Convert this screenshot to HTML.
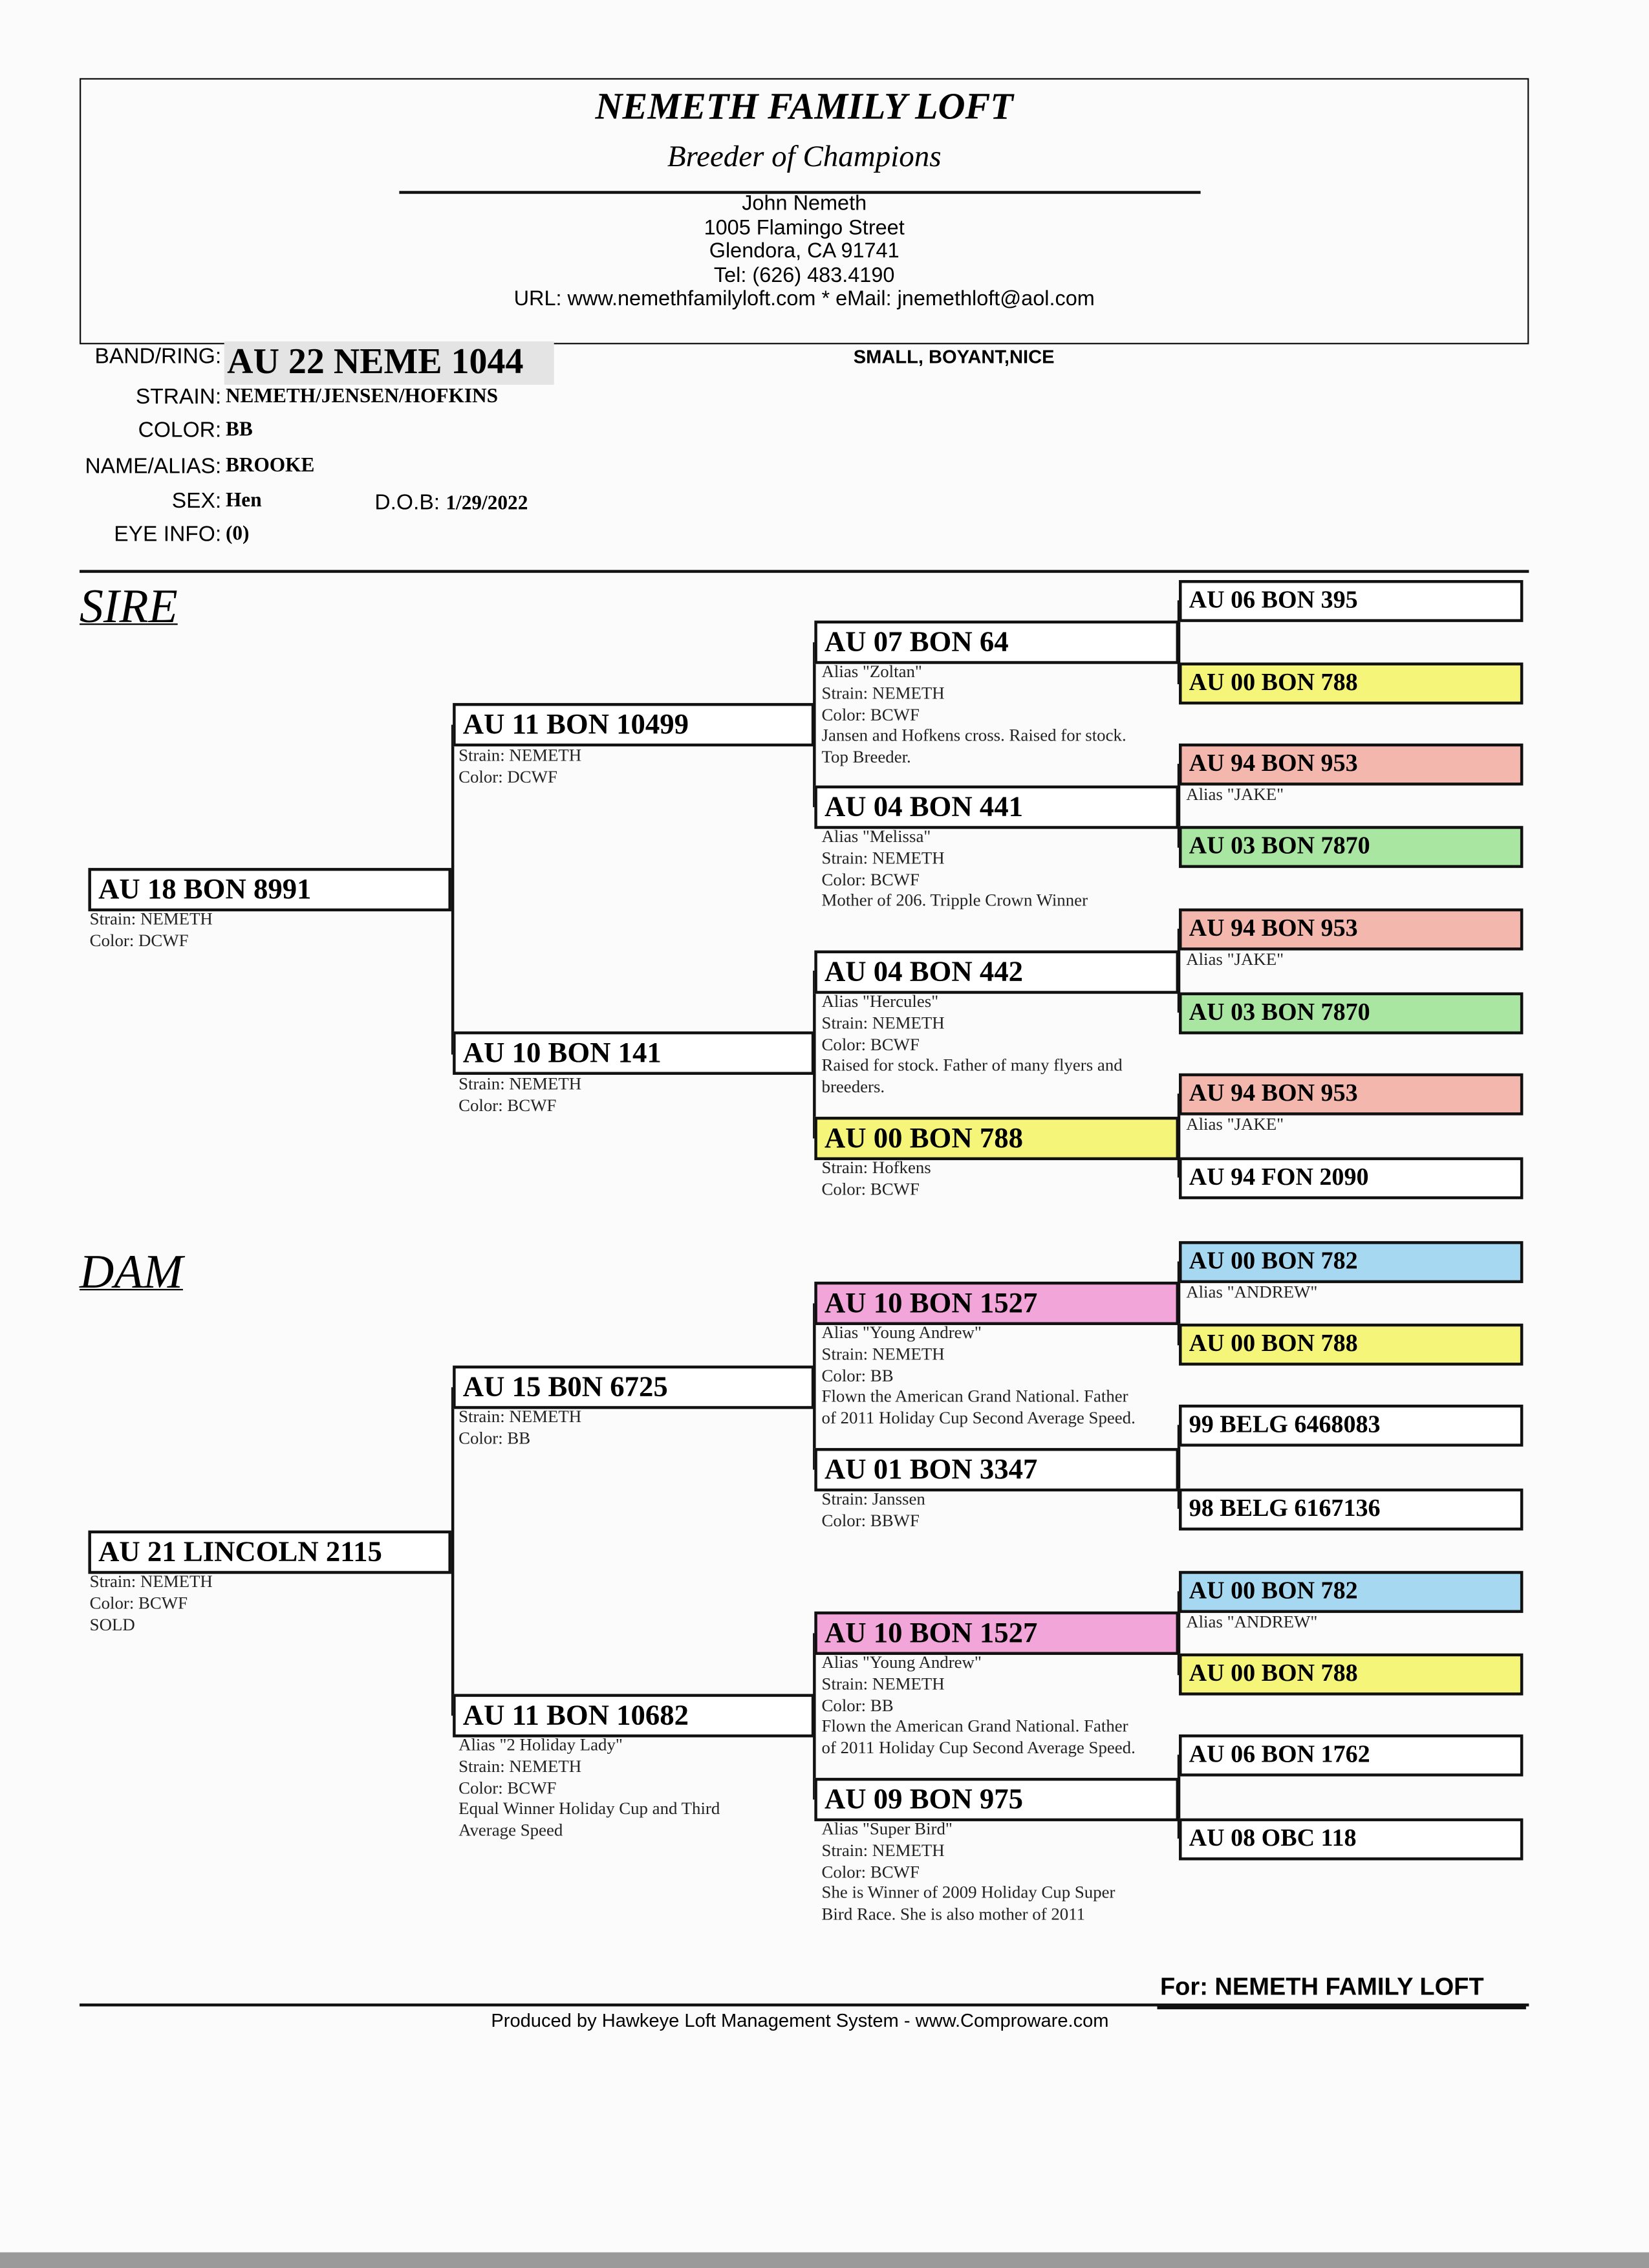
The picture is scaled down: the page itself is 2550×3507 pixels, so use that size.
<!DOCTYPE html>
<html><head><meta charset="utf-8"><style>
html,body{margin:0;padding:0;background:#fbfbfb;}
#w{width:1140px;height:1568px;position:relative;transform:scale(2.23684);transform-origin:0 0;overflow:hidden;background:#fbfbfb;}
.a{position:absolute;}
.s{font-family:"Liberation Sans",sans-serif;}
.r{font-family:"Liberation Serif",serif;}
.b{position:absolute;border:2px solid #111;box-sizing:border-box;font-family:"Liberation Serif",serif;font-weight:bold;font-size:20px;line-height:26px;padding-left:5px;white-space:nowrap;background:#fff;}
.g4{font-size:17px;line-height:24px;}
.d{position:absolute;font-family:"Liberation Serif",serif;font-size:12px;line-height:14.8px;color:#222;white-space:nowrap;}
.h{position:absolute;background:#111;height:1.5px;}
.v{position:absolute;background:#111;width:1.5px;}
.lb{position:absolute;font-family:"Liberation Sans",sans-serif;font-size:15px;text-align:right;width:150px;left:3px;}
.val{position:absolute;font-family:"Liberation Serif",serif;font-weight:bold;font-size:14px;left:156px;}
.Y{background:#f5f57a;}.P{background:#f3b7ae;}.G{background:#a9e6a2;}.K{background:#f2a5d8;}.B{background:#a6d8f2;}
</style></head><body><div id="w">
<div class="a" style="left:55px;top:54px;width:1002px;height:184px;border:1.5px solid #111;box-sizing:border-box"></div>
<div class="a r" style="left:55px;top:59px;width:1002px;text-align:center;font-size:26px;font-weight:bold;font-style:italic">NEMETH FAMILY LOFT</div>
<div class="a r" style="left:55px;top:96px;width:1002px;text-align:center;font-size:21px;font-style:italic">Breeder of Champions</div>
<div class="h" style="left:276px;top:132px;width:554px"></div>
<div class="a s" style="left:55px;top:133px;width:1002px;text-align:center;font-size:14.5px;line-height:16.5px">John Nemeth<br>1005 Flamingo Street<br>Glendora, CA 91741<br>Tel: (626) 483.4190<br>URL: www.nemethfamilyloft.com * eMail: jnemethloft@aol.com</div>

<div class="lb" style="top:238px">BAND/RING:</div>
<div class="a r" style="left:155px;top:236px;width:226px;height:30px;background:#e4e4e4;font-weight:bold;font-size:25px;line-height:30px;padding-left:2px">AU 22 NEME 1044</div>
<div class="lb" style="top:266px">STRAIN:</div><div class="val" style="top:267px">NEMETH/JENSEN/HOFKINS</div>
<div class="lb" style="top:289px">COLOR:</div><div class="val" style="top:290px">BB</div>
<div class="lb" style="top:314px">NAME/ALIAS:</div><div class="val" style="top:315px">BROOKE</div>
<div class="lb" style="top:338px">SEX:</div><div class="val" style="top:339px">Hen</div>
<div class="a s" style="left:259px;top:339px;font-size:15px">D.O.B: <b class="r" style="font-size:14px">1/29/2022</b></div>
<div class="lb" style="top:361px">EYE INFO:</div><div class="val" style="top:362px">(0)</div>
<div class="a s" style="left:590px;top:239px;font-size:13px;font-weight:bold">SMALL, BOYANT,NICE</div>
<div class="h" style="left:55px;top:394px;width:1002px"></div>

<div class="a r" style="left:55px;top:402px;font-size:33px;font-style:italic;text-decoration:underline;text-decoration-thickness:1px">SIRE</div>
<div class="a r" style="left:55px;top:862px;font-size:33px;font-style:italic;text-decoration:underline;text-decoration-thickness:1px">DAM</div>

<div class="b" style="left:61px;top:600px;width:251px;height:30px">AU 18 BON 8991</div>
<div class="d" style="left:62px;top:628px">Strain: NEMETH<br>Color: DCWF</div>
<div class="v" style="left:312px;top:501px;height:228px"></div>
<div class="b" style="left:313px;top:486px;width:250px;height:30px">AU 11 BON 10499</div>
<div class="d" style="left:317px;top:515px">Strain: NEMETH<br>Color: DCWF</div>
<div class="b" style="left:313px;top:713px;width:250px;height:30px">AU 10 BON 141</div>
<div class="d" style="left:317px;top:742px">Strain: NEMETH<br>Color: BCWF</div>
<div class="v" style="left:562px;top:444px;height:114px"></div>
<div class="v" style="left:562px;top:671px;height:116px"></div>
<div class="b" style="left:563px;top:429px;width:252px;height:30px">AU 07 BON 64</div>
<div class="d" style="left:568px;top:457px">Alias "Zoltan"<br>Strain: NEMETH<br>Color: BCWF<br>Jansen and Hofkens cross. Raised for stock.<br>Top Breeder.</div>
<div class="b" style="left:563px;top:543px;width:252px;height:30px">AU 04 BON 441</div>
<div class="d" style="left:568px;top:571px">Alias "Melissa"<br>Strain: NEMETH<br>Color: BCWF<br>Mother of 206. Tripple Crown Winner</div>
<div class="b" style="left:563px;top:657px;width:252px;height:30px">AU 04 BON 442</div>
<div class="d" style="left:568px;top:685px">Alias "Hercules"<br>Strain: NEMETH<br>Color: BCWF<br>Raised for stock. Father of many flyers and<br>breeders.</div>
<div class="b Y" style="left:563px;top:772px;width:252px;height:30px">AU 00 BON 788</div>
<div class="d" style="left:568px;top:800px">Strain: Hofkens<br>Color: BCWF</div>
<div class="v" style="left:814px;top:415px;height:58px"></div>
<div class="v" style="left:814px;top:528px;height:58px"></div>
<div class="v" style="left:814px;top:642px;height:58px"></div>
<div class="v" style="left:814px;top:756px;height:58px"></div>
<div class="b g4" style="left:815px;top:401px;width:238px;height:29px">AU 06 BON 395</div>
<div class="b g4 Y" style="left:815px;top:458px;width:238px;height:29px">AU 00 BON 788</div>
<div class="b g4 P" style="left:815px;top:514px;width:238px;height:29px">AU 94 BON 953</div>
<div class="d" style="left:820px;top:542px">Alias "JAKE"</div>
<div class="b g4 G" style="left:815px;top:571px;width:238px;height:29px">AU 03 BON 7870</div>
<div class="b g4 P" style="left:815px;top:628px;width:238px;height:29px">AU 94 BON 953</div>
<div class="d" style="left:820px;top:656px">Alias "JAKE"</div>
<div class="b g4 G" style="left:815px;top:686px;width:238px;height:29px">AU 03 BON 7870</div>
<div class="b g4 P" style="left:815px;top:742px;width:238px;height:29px">AU 94 BON 953</div>
<div class="d" style="left:820px;top:770px">Alias "JAKE"</div>
<div class="b g4" style="left:815px;top:800px;width:238px;height:29px">AU 94 FON 2090</div>

<div class="b" style="left:61px;top:1058px;width:251px;height:30px">AU 21 LINCOLN 2115</div>
<div class="d" style="left:62px;top:1086px">Strain: NEMETH<br>Color: BCWF<br>SOLD</div>
<div class="v" style="left:312px;top:959px;height:227px"></div>
<div class="b" style="left:313px;top:944px;width:250px;height:30px">AU 15 B0N 6725</div>
<div class="d" style="left:317px;top:972px">Strain: NEMETH<br>Color: BB</div>
<div class="b" style="left:313px;top:1171px;width:250px;height:30px">AU 11 BON 10682</div>
<div class="d" style="left:317px;top:1199px">Alias "2 Holiday Lady"<br>Strain: NEMETH<br>Color: BCWF<br>Equal Winner Holiday Cup and Third<br>Average Speed</div>
<div class="v" style="left:562px;top:901px;height:115px"></div>
<div class="v" style="left:562px;top:1129px;height:115px"></div>
<div class="b K" style="left:563px;top:886px;width:252px;height:30px">AU 10 BON 1527</div>
<div class="d" style="left:568px;top:914px">Alias "Young Andrew"<br>Strain: NEMETH<br>Color: BB<br>Flown the American Grand National. Father<br>of 2011 Holiday Cup Second Average Speed.</div>
<div class="b" style="left:563px;top:1001px;width:252px;height:30px">AU 01 BON 3347</div>
<div class="d" style="left:568px;top:1029px">Strain: Janssen<br>Color: BBWF</div>
<div class="b K" style="left:563px;top:1114px;width:252px;height:30px">AU 10 BON 1527</div>
<div class="d" style="left:568px;top:1142px">Alias "Young Andrew"<br>Strain: NEMETH<br>Color: BB<br>Flown the American Grand National. Father<br>of 2011 Holiday Cup Second Average Speed.</div>
<div class="b" style="left:563px;top:1229px;width:252px;height:30px">AU 09 BON 975</div>
<div class="d" style="left:568px;top:1257px">Alias "Super Bird"<br>Strain: NEMETH<br>Color: BCWF<br>She is Winner of 2009 Holiday Cup Super<br>Bird Race. She is also mother of 2011</div>
<div class="v" style="left:814px;top:872px;height:58px"></div>
<div class="v" style="left:814px;top:985px;height:58px"></div>
<div class="v" style="left:814px;top:1100px;height:58px"></div>
<div class="v" style="left:814px;top:1213px;height:58px"></div>
<div class="b g4 B" style="left:815px;top:858px;width:238px;height:29px">AU 00 BON 782</div>
<div class="d" style="left:820px;top:886px">Alias "ANDREW"</div>
<div class="b g4 Y" style="left:815px;top:915px;width:238px;height:29px">AU 00 BON 788</div>
<div class="b g4" style="left:815px;top:971px;width:238px;height:29px">99 BELG 6468083</div>
<div class="b g4" style="left:815px;top:1029px;width:238px;height:29px">98 BELG 6167136</div>
<div class="b g4 B" style="left:815px;top:1086px;width:238px;height:29px">AU 00 BON 782</div>
<div class="d" style="left:820px;top:1114px">Alias "ANDREW"</div>
<div class="b g4 Y" style="left:815px;top:1143px;width:238px;height:29px">AU 00 BON 788</div>
<div class="b g4" style="left:815px;top:1199px;width:238px;height:29px">AU 06 BON 1762</div>
<div class="b g4" style="left:815px;top:1257px;width:238px;height:29px">AU 08 OBC 118</div>

<div class="a s" style="left:802px;top:1364px;font-size:17px;font-weight:bold">For: NEMETH FAMILY LOFT</div>
<div class="h" style="left:800px;top:1387px;width:255px;height:2px"></div>
<div class="h" style="left:55px;top:1385px;width:1002px;height:2px"></div>
<div class="a s" style="left:55px;top:1389px;width:996px;text-align:center;font-size:13px">Produced by Hawkeye Loft Management System - www.Comproware.com</div>
<div class="a" style="left:0;top:1557px;width:1140px;height:11px;background:#9a9a9a"></div>
</div></body></html>
